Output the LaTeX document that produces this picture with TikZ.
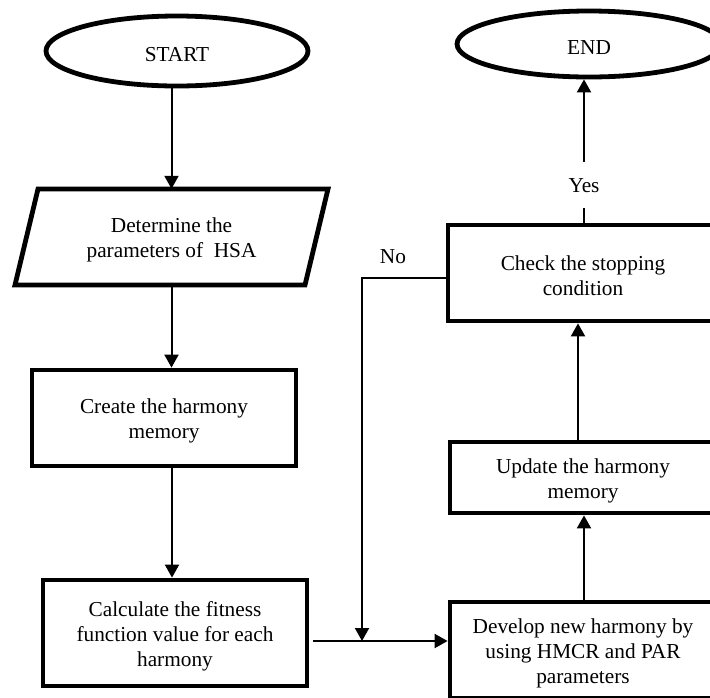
\documentclass[tikz,border=0pt]{standalone}
\usepackage{fontspec}
\setmainfont{Liberation Serif}
\usetikzlibrary{arrows.meta,shapes.geometric}
\newcommand{\lowerstrut}{\rule{0pt}{21pt}}
\begin{document}
\begin{tikzpicture}[x=1pt,y=-1pt,
  txt/.style={font=\fontsize{21.3}{25}\selectfont},
  box/.style={txt, draw, rectangle, line width=4.8pt, align=center, inner sep=0pt},
  term/.style={txt, draw, ellipse, line width=4.8pt, inner sep=0pt},
  plain/.style={txt, align=center, inner sep=0pt},
  shapeline/.style={line width=4.8pt, line join=miter},
  arr/.style={line width=2pt, -{Triangle[length=13pt,width=14pt]}}]
\useasboundingbox (0,0) rectangle (710,697);
\clip (0,0) rectangle (710,697);

% nodes
\node[term, minimum width=262pt, minimum height=70pt] (start) at (177,51) {\lowerstrut START};
\node[plain, minimum width=290pt, minimum height=96pt] (para) at (171.5,237) {\lowerstrut Determine the\\parameters of\ \ HSA};
\draw[shapeline] (38,189) -- (328,189) -- (305,285) -- (15,285) -- cycle;
\node[box, minimum width=264pt, minimum height=96pt] (create) at (164,418) {\lowerstrut Create the harmony\\memory};
\node[box, minimum width=264pt, minimum height=106pt] (calc) at (175,633) {\lowerstrut Calculate the fitness\\function value for each\\harmony};
\node[term, minimum width=264pt, minimum height=66pt] (end) at (589,44) {\lowerstrut END};
\node[box, minimum width=270pt, minimum height=96pt] (check) at (583,273) {\lowerstrut Check the stopping\\condition};
\node[box, minimum width=266pt, minimum height=71pt] (update) at (583,477.5) {\lowerstrut Update the harmony\\memory};
\node[box, minimum width=266pt, minimum height=96pt] (develop) at (583,650) {\lowerstrut Develop new harmony by\\using HMCR and PAR\\parameters};
\node[plain] (nolbl) at (393,257) {No};
\coordinate (j) at (362,641);

% connectors
\draw[arr] (para.north |- start.south) -- (para.north);
\draw[arr] (para.south) -- (para.south |- create.north);
\draw[arr] ([xshift=-3pt]calc.north |- create.south) -- ([xshift=-3pt]calc.north);
\draw[arr] ([xshift=4pt]calc.east |- j) -- (develop.west |- j);
\draw[arr] ([yshift=-5pt]check.west) -| (j);
\draw[arr] ([xshift=1pt]develop.north) -- ([xshift=1pt]update.south);
\draw[arr] ([xshift=-5pt]update.north) -- ([xshift=-5pt]check.south);
\draw[arr] ([xshift=1pt]check.north) -- node[txt, pos=0.26, fill=white, inner sep=0pt, minimum height=46pt] (yes) {Yes} ([xshift=1pt]check.north |- end.south);
\end{tikzpicture}
\end{document}
